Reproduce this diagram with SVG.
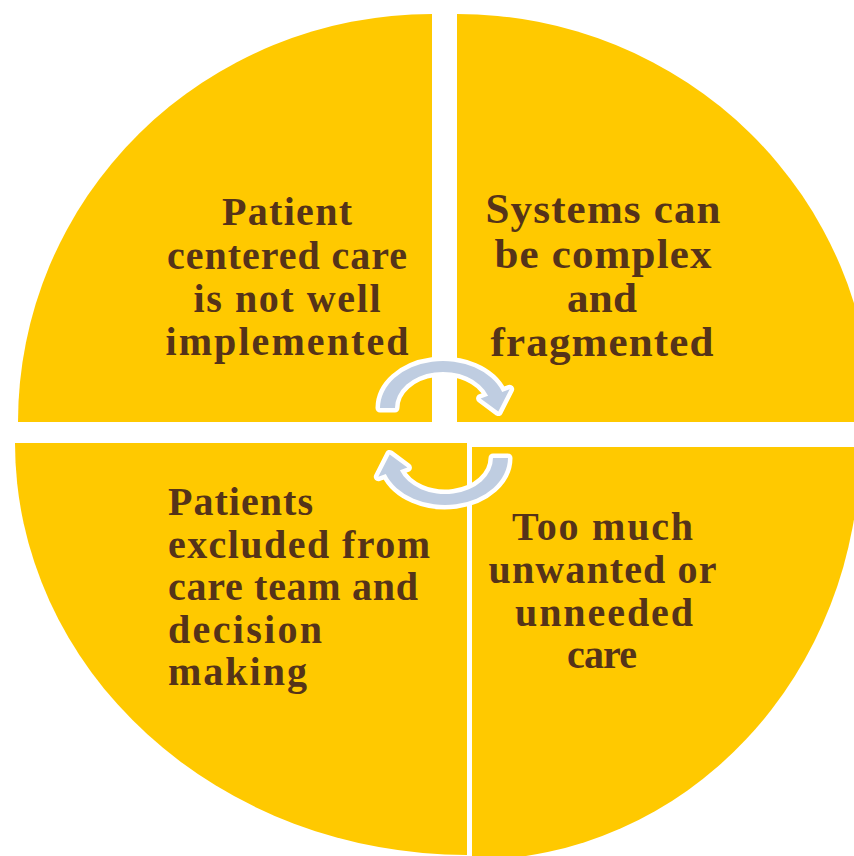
<svg xmlns="http://www.w3.org/2000/svg" width="854" height="856" viewBox="0 0 854 856">
  <style>
    .seg { fill: #FFC900; }
    .lbl { font-family: "Liberation Serif", "Times New Roman", serif; font-weight: bold; font-size: 40px; fill: #553319; }
    .big { font-size: 43px; }
    .mid { text-anchor: middle; }
    .arr { fill: #BFCDE1; stroke: #FFFFFF; stroke-width: 9; stroke-linejoin: round; paint-order: stroke; }
  </style>
  <defs>
    <path id="cyc" d="M380,408 A63,47 0 0 1 502.2,391.9 L509.7,389.2 L498.3,411.6 L480.6,398.4 L488.1,395.7 A48,36 0 0 0 395,408 Z"/>
  </defs>
  <rect width="854" height="856" fill="#FFFFFF"/>

  <g id="node-tl">
    <path class="seg" d="M432,422 L18,422 A414,408 0 0 1 432,14 Z"/>
    <text class="lbl mid" x="287" y="225" textLength="130" lengthAdjust="spacing">Patient</text>
    <text class="lbl mid" x="287" y="268.5" textLength="240" lengthAdjust="spacing">centered care</text>
    <text class="lbl mid" x="287" y="312" textLength="187" lengthAdjust="spacing">is not well</text>
    <text class="lbl mid" x="287" y="355" textLength="243" lengthAdjust="spacing">implemented</text>
  </g>

  <g id="node-tr">
    <path class="seg" d="M457,422 L457,14 A415,408 0 0 1 872,422 Z"/>
    <text class="lbl big mid" x="603" y="223" textLength="235" lengthAdjust="spacing">Systems can</text>
    <text class="lbl big mid" x="603" y="267.5" textLength="217" lengthAdjust="spacing">be complex</text>
    <text class="lbl big mid" x="602" y="312" textLength="70" lengthAdjust="spacing">and</text>
    <text class="lbl big mid" x="602" y="356" textLength="223" lengthAdjust="spacing">fragmented</text>
  </g>

  <g id="node-bl">
    <path class="seg" d="M467,443 L467,855 A452,412 0 0 1 15,443 Z"/>
    <text class="lbl" x="168" y="515" textLength="145" lengthAdjust="spacing">Patients</text>
    <text class="lbl" x="168" y="557.5" textLength="262" lengthAdjust="spacing">excluded from</text>
    <text class="lbl" x="168" y="600" textLength="250" lengthAdjust="spacing">care team and</text>
    <text class="lbl" x="168" y="642.5" textLength="154" lengthAdjust="spacing">decision</text>
    <text class="lbl" x="168" y="685" textLength="139" lengthAdjust="spacing">making</text>
  </g>

  <g id="node-br">
    <path class="seg" d="M472,447 L860,447 A388,413 0 0 1 472,860 Z"/>
    <text class="lbl mid" x="602.5" y="540" textLength="181" lengthAdjust="spacing">Too much</text>
    <text class="lbl mid" x="602.5" y="582.5" textLength="228" lengthAdjust="spacing">unwanted or</text>
    <text class="lbl mid" x="604" y="626" textLength="178" lengthAdjust="spacing">unneeded</text>
    <text class="lbl mid" x="602" y="668" textLength="70" lengthAdjust="spacing">care</text>
  </g>

  <g id="connectors">
    <use href="#cyc" class="arr"/>
    <use href="#cyc" class="arr" transform="rotate(180 444 433)"/>
  </g>
</svg>
